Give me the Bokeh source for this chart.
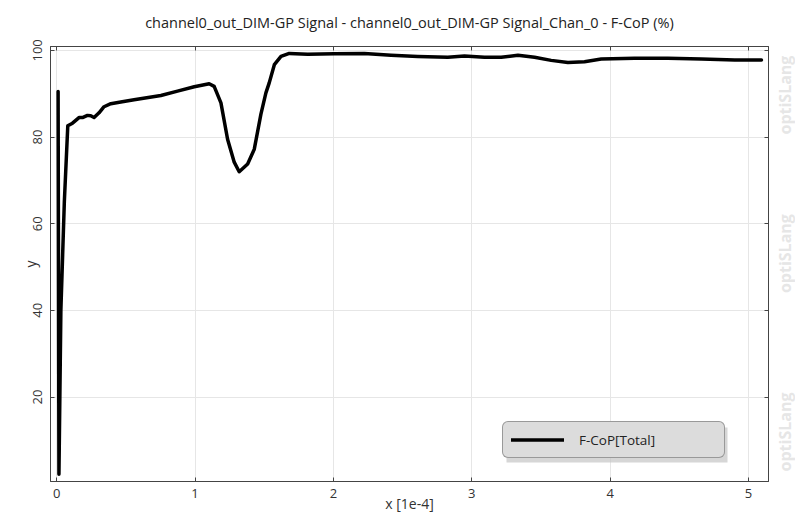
import math

from bokeh.core.properties import value
from bokeh.embed import file_html
from bokeh.layouts import row
from bokeh.models import (BoxAnnotation, Legend, LegendItem, LinearAxis,
                          Range1d, SingleIntervalTicker)
from bokeh.plotting import figure
from bokeh.resources import INLINE

# F-CoP[Total] curve, x in units of 1e-4
x_vals = [0.010, 0.016, 0.030, 0.055, 0.080, 0.114, 0.161, 0.186, 0.222, 0.246,
          0.270, 0.306, 0.342, 0.391, 0.463, 0.559, 0.753, 0.873, 0.994, 1.102,
          1.138, 1.187, 1.235, 1.283, 1.319, 1.380, 1.428, 1.476, 1.512, 1.536,
          1.573, 1.621, 1.681, 1.814, 2.007, 2.224, 2.417, 2.610, 2.827, 2.947,
          3.092, 3.213, 3.334, 3.454, 3.574, 3.695, 3.815, 3.936, 4.177, 4.418,
          4.660, 4.901, 5.094]
y_vals = [90.5, 2.2, 40.0, 65.0, 82.6, 83.2, 84.5, 84.5, 85.0, 84.9,
          84.5, 85.6, 87.0, 87.7, 88.1, 88.6, 89.6, 90.6, 91.6, 92.3,
          91.7, 87.9, 79.5, 74.2, 72.0, 73.8, 77.2, 85.3, 90.2, 92.5,
          96.7, 98.6, 99.3, 99.1, 99.2, 99.3, 98.9, 98.6, 98.4, 98.7,
          98.4, 98.4, 98.9, 98.4, 97.7, 97.2, 97.4, 98.0, 98.2, 98.2,
          98.0, 97.8, 97.8]

series_name = "F-CoP[Total]"
title_text = "channel0_out_DIM-GP Signal - channel0_out_DIM-GP Signal_Chan_0 - F-CoP (%)"
x_label = "x [1e-4]"
y_label = "y"
watermark = "optiSLang"

FONT = "Open Sans"
AXIS_COLOR = "#444444"
GRID_COLOR = "#e6e6e6"
TEXT_COLOR = "#333333"
HEIGHT = 515
MAIN_W = 772
STRIP_W = 23
FRAME_TOP, FRAME_BOTTOM = 43, 482

p = figure(width=MAIN_W, height=HEIGHT, output_backend="svg", toolbar_location=None,
           x_range=Range1d(-0.045, 5.145), y_range=Range1d(0.5, 100.9),
           min_border_left=50, min_border_right=0, min_border_top=FRAME_TOP,
           min_border_bottom=HEIGHT - FRAME_BOTTOM,
           x_axis_label=x_label, y_axis_label=y_label)

p.title.text = title_text
p.title.align = "center"
p.title.text_font = FONT
p.title.text_font_size = "14.5px"
p.title.text_font_style = "normal"
p.title.text_color = "#222222"
p.title.standoff = 21

p.outline_line_color = AXIS_COLOR
p.background_fill_color = "white"
p.border_fill_color = "white"

p.xaxis.ticker = SingleIntervalTicker(interval=1)
p.yaxis.ticker = SingleIntervalTicker(interval=20)
p.yaxis.major_label_orientation = "vertical"

for ax in p.xaxis + p.yaxis:
    ax.axis_line_color = AXIS_COLOR
    ax.major_tick_line_color = AXIS_COLOR
    ax.major_tick_in = 4
    ax.major_tick_out = 0
    ax.minor_tick_line_color = None
    ax.major_label_text_font = FONT
    ax.major_label_text_font_size = "13px"
    ax.major_label_text_color = TEXT_COLOR
    ax.axis_label_text_font = FONT
    ax.axis_label_text_font_size = "14px"
    ax.axis_label_text_font_style = "normal"
    ax.axis_label_text_color = TEXT_COLOR
p.xaxis.major_label_standoff = 3
p.xaxis.axis_label_standoff = -7
p.yaxis.major_label_standoff = 4
p.yaxis.axis_label_standoff = -9

# mirrored tick marks on the top and right edges
for loc, interval in (("above", 1), ("right", 20)):
    mirror = LinearAxis(ticker=SingleIntervalTicker(interval=interval))
    mirror.axis_line_color = AXIS_COLOR
    mirror.major_tick_line_color = AXIS_COLOR
    mirror.major_tick_in = 4
    mirror.major_tick_out = 0
    mirror.minor_tick_line_color = None
    mirror.major_label_text_alpha = 0
    mirror.major_label_text_font_size = "0px"
    mirror.major_label_standoff = 0
    p.add_layout(mirror, loc)

p.xgrid.grid_line_color = GRID_COLOR
p.ygrid.grid_line_color = GRID_COLOR
p.xgrid.ticker = SingleIntervalTicker(interval=1)
p.ygrid.ticker = SingleIntervalTicker(interval=20)

line = p.line(x_vals, y_vals, line_color="black", line_width=3.5,
              line_join="round", line_cap="round")

# legend drop shadow
p.add_layout(BoxAnnotation(left=456, right=677, bottom=19, top=54,
                           left_units="screen", right_units="screen",
                           top_units="screen", bottom_units="screen",
                           fill_color="#c4c4c4", fill_alpha=0.7,
                           line_color=None))

legend = Legend(items=[LegendItem(label=series_name, renderers=[line])],
                location=(452, 23), padding=8, glyph_width=53, glyph_height=19,
                label_height=19, label_width=137, label_standoff=15,
                background_fill_color="#dcdcdc", background_fill_alpha=1.0,
                border_line_color="#555555", border_line_width=1,
                label_text_font=FONT, label_text_font_size="13.5px",
                label_text_color="#222222", margin=0)
if "border_radius" in Legend.properties():
    legend.border_radius = 6
p.add_layout(legend)

# narrow strip on the right carrying the vertical watermark; its frame is
# aligned with the main frame, so y runs in pixels from the top of the page
wm_centres = [92, 252, 432]
strip = figure(width=STRIP_W, height=HEIGHT, output_backend="svg",
               toolbar_location=None, title=None,
               x_range=Range1d(0, STRIP_W),
               y_range=Range1d(FRAME_BOTTOM, FRAME_TOP),
               x_axis_type=None, y_axis_type=None,
               min_border=0, outline_line_color=None)
strip.grid.visible = False
strip.background_fill_color = "white"
strip.border_fill_color = "white"
strip.text(x=[STRIP_W / 2 + 1] * len(wm_centres), y=wm_centres,
           text=[watermark] * len(wm_centres), angle=math.pi / 2,
           text_align="center", text_baseline="middle",
           text_font=value(FONT), text_font_style="bold",
           text_font_size="16px", text_color="#e6e6e6")

layout = row(p, strip, spacing=0)
open("out.html", "w").write(file_html(layout, INLINE))
